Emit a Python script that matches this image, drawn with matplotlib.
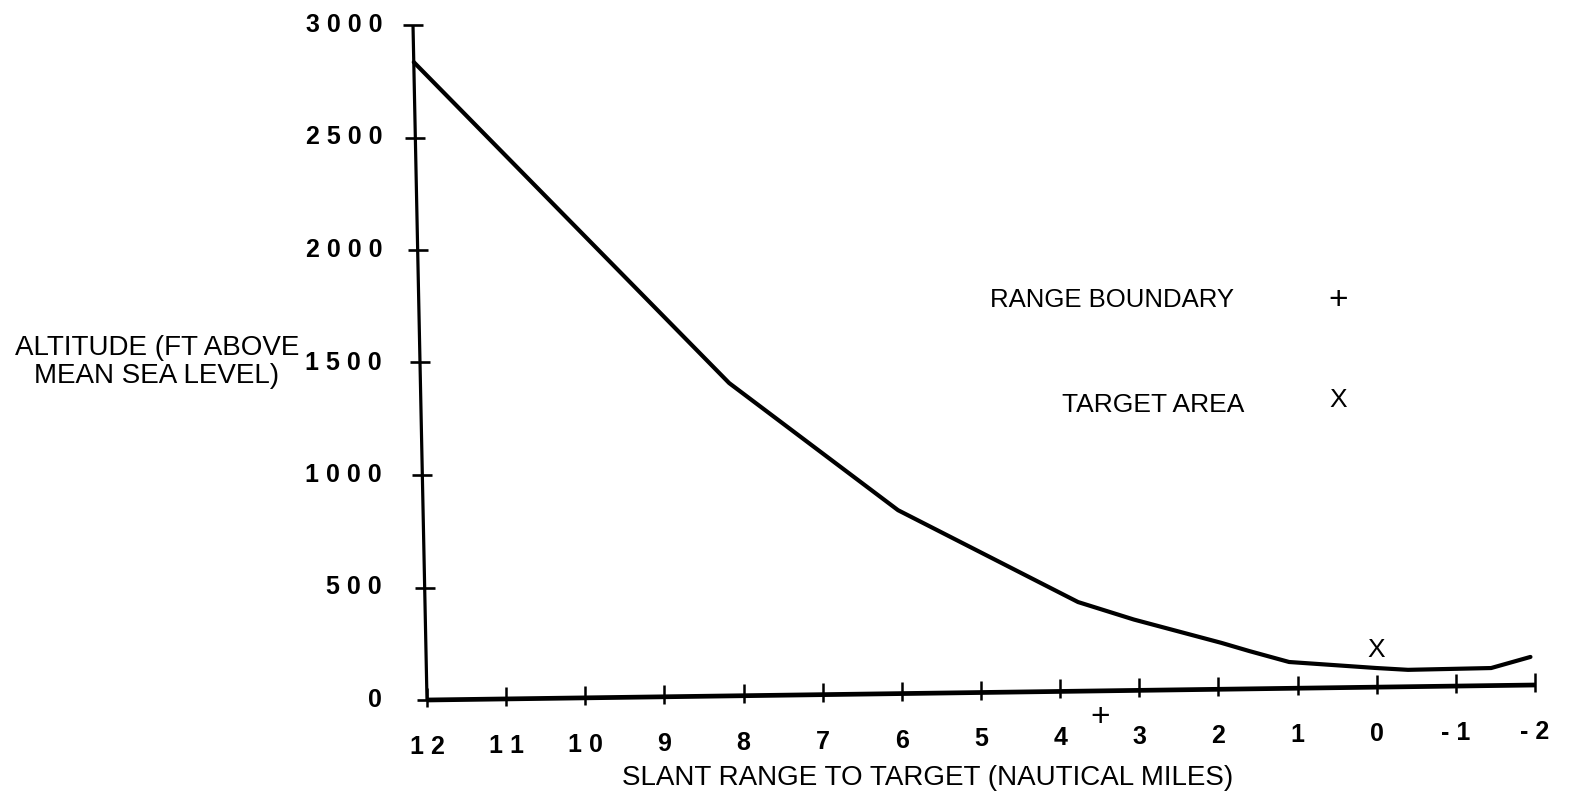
import matplotlib
matplotlib.use("Agg")
import matplotlib.pyplot as plt
import matplotlib.transforms as mtransforms
from matplotlib.path import Path
import numpy as np

# Altitude profile of the approach (slant range in nautical miles, altitude in ft MSL)
slant_range_nm = [12, 8.1, 6.0, 3.75, 3.05, 1.95, 1.6, 1.1, 0.0, -0.4, -1.45, -1.95]
altitude_ft = [2835, 1390, 815, 396, 315, 206, 168, 117, 85, 75, 78, 125]

x_ticks = list(range(12, -3, -1))
y_ticks = [0, 500, 1000, 1500, 2000, 2500, 3000]

# Reference marks
range_boundary_nm = 3.5
target_nm = 0.0
target_alt_ft = 165

W, H = 1570, 802
plt.rcParams["font.family"] = ["Liberation Sans", "DejaVu Sans"]

fig = plt.figure(figsize=(W / 100, H / 100), dpi=100)
x0_px, x1_px = 427, 1535
y0_px, y1_px = 102, 777
ax = fig.add_axes([x0_px / W, y0_px / H, (x1_px - x0_px) / W, (y1_px - y0_px) / H])
ax.set_xlim(12, -2)
ax.set_ylim(0, 3000)
ax.set_axis_off()

# slight skew of the whole drawing, as on the printed page
a = 14 / 675
b = 15 / 1108
skew = mtransforms.Affine2D(np.array([[1, -a, a * y0_px],
                                      [b, 1, -b * x0_px],
                                      [0, 0, 1]]))
tr = ax.transData + skew

# axes lines
ax.plot([12, -2], [0, 0], color="black", lw=3.4, transform=tr, clip_on=False,
        solid_capstyle="butt")
ax.plot([12, 12], [0, 3000], color="black", lw=2.3, transform=tr, clip_on=False,
        solid_capstyle="butt")

# tick marks
xtick_marker = Path([(0, -7), (0, 12)], [Path.MOVETO, Path.LINETO])
ax.plot(x_ticks, [0] * len(x_ticks), ls="none", marker=xtick_marker,
        markersize=17.3, markeredgewidth=1.8, color="black", transform=tr, clip_on=False)
ax.plot([12] * len(y_ticks), y_ticks, ls="none", marker="_",
        markersize=14.4, markeredgewidth=1.9, color="black", transform=tr, clip_on=False)

# profile line
ax.plot(slant_range_nm, altitude_ft, color="black", lw=3.0, transform=tr, clip_on=False,
        solid_joinstyle="round", solid_capstyle="round")

# tick labels
xlab_tr = mtransforms.offset_copy(tr, fig=fig, x=0, y=-47, units="dots")
for v in x_ticks:
    ax.text(v, 0, " ".join(str(v)), transform=xlab_tr, ha="center", va="center",
            fontsize=18, fontweight="bold", clip_on=False)

ylab_tr = mtransforms.blended_transform_factory(fig.transFigure, ax.transData)
for v in y_ticks:
    ax.text(382 / W, v, " ".join(str(v)), transform=ylab_tr, ha="right", va="center",
            fontsize=18, fontweight="bold", clip_on=False)

# marks on the chart
ax.text(range_boundary_nm, 0, "+",
        transform=mtransforms.offset_copy(tr, fig=fig, x=0, y=-27, units="dots"),
        ha="center", va="center", fontsize=24, clip_on=False)
ax.text(target_nm, target_alt_ft, "X", transform=tr, ha="center", va="center",
        fontsize=19, clip_on=False)

# axis titles
fig.text(157 / W, 1 - 362 / H, "ALTITUDE (FT ABOVE\nMEAN SEA LEVEL)",
         ha="center", va="center", fontsize=20, linespacing=1.1)
fig.text(928 / W, 1 - 778 / H, "SLANT RANGE TO TARGET (NAUTICAL MILES)",
         ha="center", va="center", fontsize=20)

# key
fig.text(990 / W, 1 - 300 / H, "RANGE BOUNDARY", ha="left", va="center", fontsize=18.5)
fig.text(1338 / W, 1 - 300 / H, "+", ha="center", va="center", fontsize=24)
fig.text(1062 / W, 1 - 405 / H, "TARGET AREA", ha="left", va="center", fontsize=19)
fig.text(1338 / W, 1 - 400 / H, "X", ha="center", va="center", fontsize=19)

fig.savefig("out.png", dpi=100, facecolor="white")
